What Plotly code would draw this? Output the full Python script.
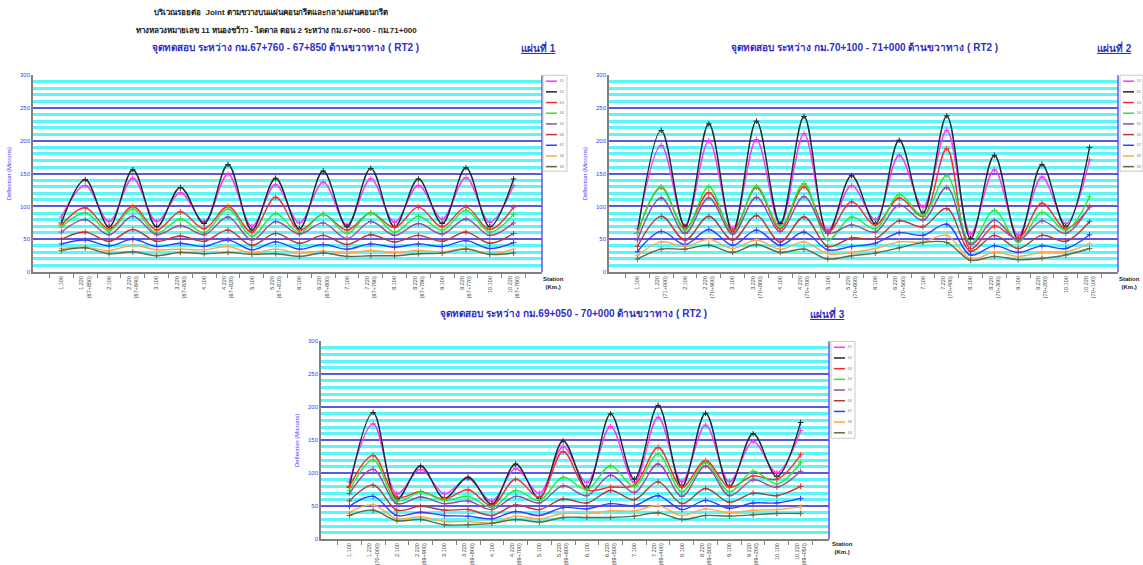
import plotly.graph_objects as go

W, H = 1143, 565

# ---- series definitions (legend order) ----
sensor_names = ["D1", "D2", "D3", "D4", "D5", "D6", "D7", "D8", "D9"]
sensor_colors = ["#ff33ff", "#262626", "#ff2a2a", "#2ee62e", "#9b4a9b",
                 "#b8383a", "#3a3aff", "#ffa64d", "#5d6b45"]

# ---- station chainages per sheet ----
chainage_1 = ["67+850", "67+840", "67+830", "67+820", "67+810",
              "67+800", "67+790", "67+780", "67+770", "67+760"]
chainage_2 = ["71+000", "70+900", "70+800", "70+700", "70+600",
              "70+500", "70+400", "70+300", "70+200", "70+100"]
chainage_3 = ["70+000", "69+900", "69+800", "69+700", "69+600",
              "69+500", "69+400", "69+300", "69+200", "69+050"]

# ---- deflections (microns), one list per sensor, 20 test points each ----
sheet_1 = [
    [84, 132, 77, 143, 77, 121, 77, 149, 70, 133, 75, 137, 72, 142, 76, 132, 81, 144, 76, 132],
    [75, 141, 69, 156, 69, 129, 74, 164, 64, 143, 66, 154, 69, 158, 69, 142, 74, 159, 69, 142],
    [72, 98, 66, 100, 64, 92, 66, 100, 61, 114, 64, 88, 64, 90, 68, 99, 69, 99, 65, 99],
    [69, 90, 63, 96, 59, 81, 60, 96, 55, 89, 60, 88, 59, 90, 61, 85, 64, 94, 61, 88],
    [61, 80, 57, 85, 57, 71, 57, 84, 49, 77, 58, 75, 51, 77, 56, 74, 58, 81, 56, 75],
    [50, 61, 47, 65, 47, 55, 47, 64, 41, 59, 44, 56, 42, 57, 46, 56, 47, 61, 44, 59],
    [43, 49, 40, 50, 39, 44, 39, 49, 34, 46, 35, 42, 35, 43, 38, 43, 39, 48, 36, 45],
    [36, 38, 33, 41, 34, 35, 34, 39, 29, 35, 29, 32, 29, 33, 30, 33, 31, 36, 28, 35],
    [33, 37, 28, 31, 25, 30, 28, 30, 27, 28, 24, 29, 24, 25, 25, 28, 29, 35, 27, 29],
]
sheet_2 = [
    [66, 193, 71, 200, 66, 202, 72, 211, 64, 132, 80, 178, 99, 216, 58, 156, 56, 145, 74, 171],
    [59, 216, 69, 226, 61, 230, 74, 237, 59, 147, 74, 201, 90, 238, 51, 178, 50, 164, 69, 190],
    [59, 129, 66, 121, 63, 129, 66, 130, 61, 107, 72, 113, 85, 188, 36, 70, 51, 105, 66, 99],
    [59, 130, 64, 130, 59, 131, 69, 135, 49, 84, 66, 118, 86, 147, 44, 94, 46, 91, 64, 115],
    [49, 113, 59, 113, 58, 114, 62, 115, 59, 72, 61, 102, 79, 129, 42, 79, 49, 78, 59, 100],
    [39, 85, 49, 85, 49, 86, 46, 84, 39, 52, 51, 78, 69, 97, 32, 56, 36, 56, 47, 77],
    [31, 62, 42, 65, 41, 64, 41, 61, 34, 39, 44, 60, 56, 73, 26, 40, 30, 40, 36, 57],
    [25, 46, 39, 50, 36, 49, 35, 46, 28, 30, 36, 46, 46, 56, 20, 30, 24, 30, 31, 43],
    [20, 35, 35, 41, 30, 42, 30, 35, 20, 25, 29, 37, 45, 45, 18, 24, 19, 21, 26, 36],
]
sheet_3 = [
    [87, 175, 69, 106, 69, 92, 58, 107, 70, 140, 86, 171, 86, 185, 87, 173, 87, 148, 101, 165],
    [79, 192, 61, 111, 62, 94, 53, 114, 62, 149, 78, 190, 91, 203, 80, 191, 80, 160, 95, 177],
    [80, 127, 64, 72, 61, 75, 51, 91, 64, 133, 75, 79, 82, 139, 79, 119, 79, 96, 91, 128],
    [74, 120, 58, 71, 59, 65, 48, 74, 59, 94, 75, 111, 80, 129, 72, 116, 72, 103, 84, 116],
    [69, 106, 54, 64, 54, 58, 45, 65, 55, 81, 66, 97, 71, 114, 65, 111, 66, 90, 79, 103],
    [58, 82, 44, 50, 44, 45, 36, 52, 45, 61, 55, 74, 60, 87, 54, 77, 56, 70, 66, 80],
    [50, 65, 36, 41, 36, 35, 31, 42, 36, 48, 46, 54, 51, 66, 45, 59, 47, 55, 55, 62],
    [41, 52, 31, 34, 27, 27, 25, 35, 31, 39, 39, 43, 43, 51, 36, 46, 40, 44, 45, 49],
    [36, 44, 28, 30, 22, 22, 24, 30, 26, 33, 33, 33, 35, 40, 30, 36, 35, 37, 39, 39],
]

TITLE_1 = "บริเวณรอยต่อ  Joint ตามขวางบนแผ่นคอนกรีตและกลางแผ่นคอนกรีต"
TITLE_2 = "ทางหลวงหมายเลข 11 หนองชว้าว - ไดดาล ตอน 2 ระหว่าง กม.67+000 - กม.71+000"
SHEET_TITLES = [
    "จุดทดสอบ ระหว่าง กม.67+760 - 67+850 ด้านขวาทาง ( RT2 )",
    "จุดทดสอบ ระหว่าง กม.70+100 - 71+000 ด้านขวาทาง ( RT2 )",
    "จุดทดสอบ ระหว่าง กม.69+050 - 70+000 ด้านขวาทาง ( RT2 )",
]
SHEET_TAGS = ["แผ่นที่ 1", "แผ่นที่ 2", "แผ่นที่ 3"]

FONT = "Liberation Sans, Arial, Noto Sans, sans-serif"
BLUE_TXT = "#3b3bff"
TITLE_BLUE = "#2f2fc8"


def px_x(p):
    return p / W


def px_y(p):
    return 1 - p / H


def station_labels(chainage):
    labels = []
    for k, ch in enumerate(chainage, start=1):
        labels.append(f"{k}.100")
        labels.append(f"{k}.220<br>({ch})")
    return labels


# plot-area boxes in pixels: (left, top, right, bottom)
boxes = [(33, 73, 542, 272), (609, 73, 1118, 272), (321, 342, 829, 542)]
sheets = [sheet_1, sheet_2, sheet_3]
chainages = [chainage_1, chainage_2, chainage_3]
# legend boxes: (left, top, right, bottom)
legend_boxes = [(543, 73, 567, 170), (1120, 73, 1143, 170), (831, 342, 855, 440)]
title_pos = [(285, 45), (864, 45), (574, 314)]
tag_pos = [(538, 45), (1114, 45), (827, 314)]
station_pos = [(553, 283), (1129, 283), (842, 551)]

fig = go.Figure()
layout = dict(
    width=W, height=H, margin=dict(l=0, r=0, t=0, b=0),
    paper_bgcolor="white", plot_bgcolor="white", showlegend=False,
    font=dict(family=FONT, size=7, color="#333333"),
)
shapes, annotations = [], []

for i, (box, data, chain) in enumerate(zip(boxes, sheets, chainages)):
    n = "" if i == 0 else str(i + 1)
    xa, ya = "x" + n, "y" + n
    cats = station_labels(chain)
    for name, color, vals in zip(sensor_names, sensor_colors, data):
        fig.add_trace(go.Scatter(
            x=cats, y=vals, xaxis=xa, yaxis=ya, name=name, mode="lines+markers",
            line=dict(color=color, width=1.4, shape="spline", smoothing=1.0),
            marker=dict(symbol="cross-thin", size=4, line=dict(color=color, width=1)),
        ))
    l, t, r, b = box
    layout["xaxis" + n] = dict(
        domain=[px_x(l), px_x(r)], anchor=ya, type="category",
        categoryorder="array", categoryarray=cats,
        showline=True, linecolor="#808080", linewidth=1.5,
        ticks="outside", tickson="boundaries", ticklen=4, tickcolor="#808080",
        tickangle=-90, tickfont=dict(size=5.5, color="#444444"),
        showgrid=False, zeroline=False, fixedrange=True,
    )
    layout["yaxis" + n] = dict(
        domain=[px_y(b), px_y(t)], anchor=xa, range=[0, 300],
        tick0=0, dtick=50, showgrid=True, gridcolor="#5a5ae0", gridwidth=2,
        minor=dict(dtick=10, showgrid=True, gridcolor="#5cf6f6", gridwidth=2.6),
        showline=True, linecolor="#808080", linewidth=1.5, ticks="",
        tickfont=dict(size=6, color=BLUE_TXT), zeroline=False, fixedrange=True,
        title=dict(text="Deflection (Microns)", standoff=8,
                   font=dict(size=6, color=BLUE_TXT)),
    )
    # right-hand frame of the plot area
    shapes.append(dict(type="line", xref=xa + " domain", yref=ya + " domain",
                       x0=1, x1=1, y0=0, y1=1, line=dict(color="#5a5ae0", width=1.5)))

    # legend box with swatches
    lx0, ly0, lx1, ly1 = legend_boxes[i]
    shapes.append(dict(type="rect", xref="paper", yref="paper",
                       x0=px_x(lx0), x1=px_x(lx1), y0=px_y(ly1), y1=px_y(ly0),
                       line=dict(color="#c8c8c8", width=1), fillcolor="white"))
    for k, (name, color) in enumerate(zip(sensor_names, sensor_colors)):
        yy = ly0 + 6 + k * 10.8
        shapes.append(dict(type="line", xref="paper", yref="paper",
                           x0=px_x(lx0 + 3), x1=px_x(lx0 + 14),
                           y0=px_y(yy), y1=px_y(yy), line=dict(color=color, width=1.5)))
        annotations.append(dict(text=name, xref="paper", yref="paper",
                                x=px_x(lx0 + 15), y=px_y(yy), xanchor="left",
                                yanchor="middle", showarrow=False,
                                font=dict(size=3, color="#666666")))

    # sheet heading and tag
    tx, ty = title_pos[i]
    annotations.append(dict(text=f"<b>{SHEET_TITLES[i]}</b>", xref="paper", yref="paper",
                            x=px_x(tx), y=px_y(ty), xanchor="center", yanchor="middle",
                            showarrow=False, font=dict(size=10, color=TITLE_BLUE)))
    gx, gy = tag_pos[i]
    annotations.append(dict(text=f"<b><u>{SHEET_TAGS[i]}</u></b>", xref="paper", yref="paper",
                            x=px_x(gx), y=px_y(gy), xanchor="center", yanchor="middle",
                            showarrow=False, font=dict(size=10, color=TITLE_BLUE)))
    sx, sy = station_pos[i]
    annotations.append(dict(text="<b>Station<br>(Km.)</b>", xref="paper", yref="paper",
                            x=px_x(sx), y=px_y(sy), xanchor="center", yanchor="middle",
                            showarrow=False, font=dict(size=6, color="#222222")))

annotations.append(dict(text=f"<b>{TITLE_1}</b>", xref="paper", yref="paper",
                        x=px_x(271), y=px_y(9), xanchor="center", yanchor="middle",
                        showarrow=False, font=dict(size=8, color="#222222")))
annotations.append(dict(text=f"<b>{TITLE_2}</b>", xref="paper", yref="paper",
                        x=px_x(276), y=px_y(27), xanchor="center", yanchor="middle",
                        showarrow=False, font=dict(size=8, color="#222222")))

layout["shapes"] = shapes
layout["annotations"] = annotations
fig.update_layout(**layout)
fig.write_html("out.html")
